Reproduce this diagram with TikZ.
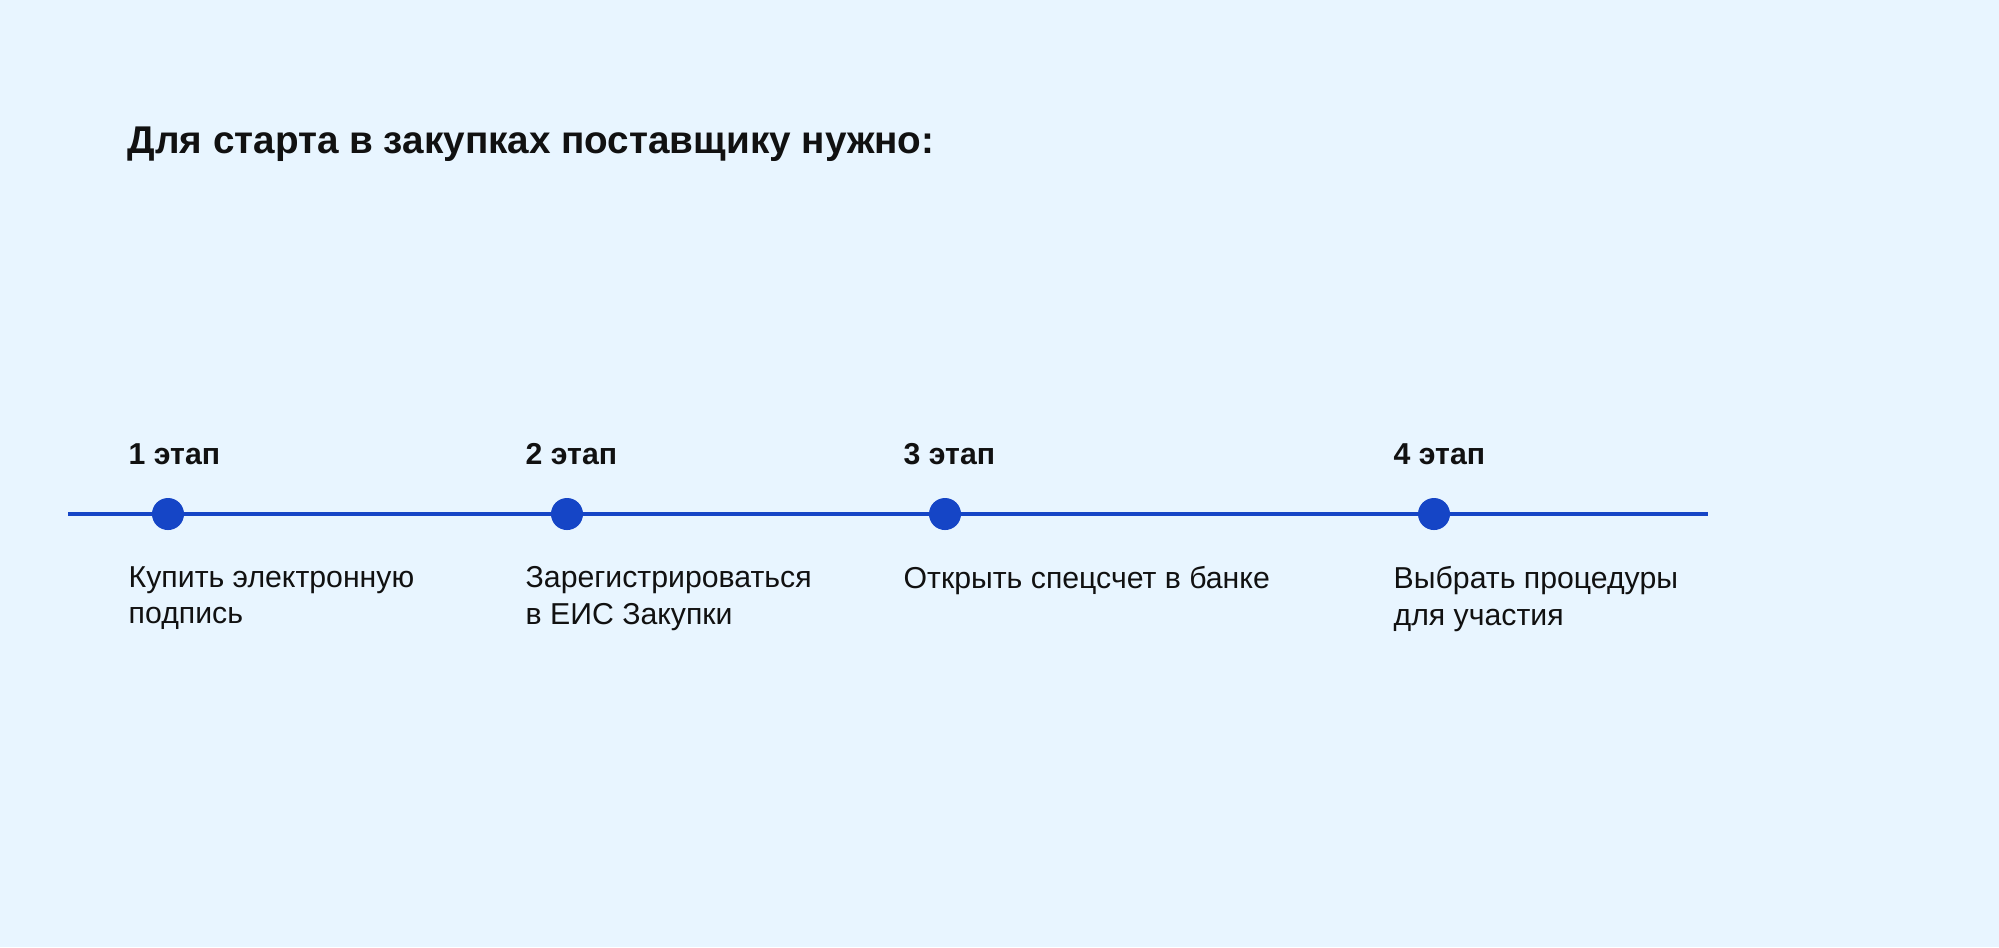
\documentclass[tikz,border=0pt]{standalone}
\usepackage{fontspec}
\setmainfont{Liberation Sans}
\definecolor{bg}{HTML}{E8F5FF}
\definecolor{blue}{HTML}{1545C6}
\definecolor{txt}{HTML}{111111}
\begin{document}
\begin{tikzpicture}[x=0.01cm,y=-0.01cm,
  stage/.style={anchor=west,font=\fontsize{8.6}{10}\selectfont\bfseries,text=txt,inner sep=0},
  desc/.style={anchor=north west,align=left,font=\fontsize{8.6}{10.3}\selectfont,text=txt,inner sep=0},
  dot/.style={circle,fill=blue,minimum size=0.32cm,inner sep=0}]
\fill[bg] (0,0) rectangle (1999,947);
\useasboundingbox (0,0) rectangle (1999,947);
\node[anchor=west,font=\fontsize{11}{13}\selectfont\bfseries,text=txt,inner sep=0] (title) at (127,144) {Для старта в закупках поставщику нужно:};
\coordinate (ls) at (68,514); \coordinate (le) at (1708,514);
\draw[blue,line width=1.1pt] (ls) -- (le);
\foreach \i/\x/\lx/\d in {1/168/128/{Купить электронную\\подпись},2/567/525/{Зарегистрироваться\\в ЕИС Закупки},3/945/903/{Открыть спецсчет в банке},4/1434/1393/{Выбрать процедуры\\для участия}}{
  \node[dot] (d\i) at (\x,514) {};
  \node[stage] (s\i) at (\lx,454) {\i{} этап};
  \node[desc] (t\i) at (\lx,566) {\d};
}
\end{tikzpicture}
\end{document}
